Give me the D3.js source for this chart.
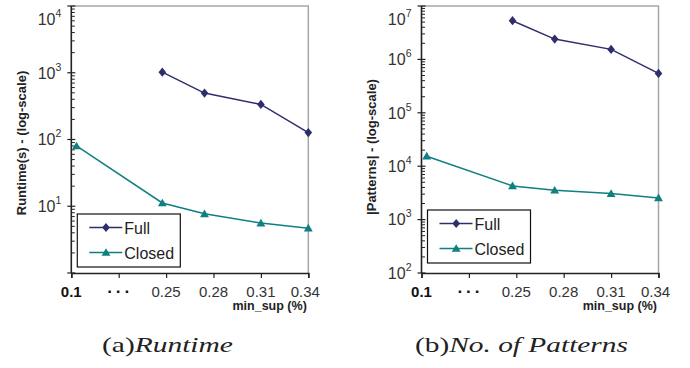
<!DOCTYPE html>
<html><head><meta charset="utf-8">
<script src="https://cdn.jsdelivr.net/npm/d3@7"></script>
<style>
html,body{margin:0;padding:0;background:#fff;}
svg{display:block;}
</style></head>
<body>
<svg id="chart" width="690" height="368"></svg>
<script>
// ---- data ----
const categories = ["0.1", "···", "0.25", "0.28", "0.31", "0.34"];
const closedX = [0.11, 1.92, 2.81, 4.0, 5.0];   // position of Closed points on category axis
const fullX = [1.92, 2.81, 4.0, 5.0];           // position of Full points
const runtimeFull = [1020, 496, 335, 127];
const runtimeClosed = [80, 11.2, 7.7, 5.6, 4.7];
const patternsFull = [5.3e6, 2.4e6, 1.54e6, 5.46e5];
const patternsClosed = [15400, 4275, 3548, 3072, 2547];
const seriesNames = ["Full", "Closed"];
const runtimeTicks = [1, 10, 100, 1000, 10000];
const patternTicks = [1e2, 1e3, 1e4, 1e5, 1e6, 1e7];

const colors = {Full: "#2e2e6c", Closed: "#0f7f80"};
const svg = d3.select("#chart");
const FONT = "'Liberation Sans', Arial, sans-serif";

function panel(opt) {
  const top = 6, bottom = 273, left = opt.axisX, right = opt.axisX + 237;
  const x = d3.scaleLinear().domain([0, 5]).range([left, right]);
  const y = d3.scaleLog().domain(opt.domain).range([bottom, top]);
  const g = svg.append("g");

  // frame (top & right in gray)
  g.append("path").attr("d", `M${left},${top}H${right}V${bottom}`)
    .attr("fill", "none").attr("stroke", "#a8a8a8").attr("stroke-width", 1.5);

  // minor ticks
  const minors = y.ticks().filter(v => opt.ticks.indexOf(v) < 0);
  g.selectAll(".minor").data(minors).enter().append("line")
    .attr("x1", left).attr("x2", left + 3.5)
    .attr("y1", d => y(d)).attr("y2", d => y(d))
    .attr("stroke", "#222").attr("stroke-width", 1);
  // major ticks
  g.selectAll(".major").data(opt.ticks).enter().append("line")
    .attr("x1", left - 4).attr("x2", left + 4)
    .attr("y1", d => y(d)).attr("y2", d => y(d))
    .attr("stroke", "#222").attr("stroke-width", 1.2);
  // major labels
  opt.ticks.forEach((v, i) => {
    if (opt.skipFirstLabel && i === 0) return;
    const cy = Math.max(y(v), 19);
    const t = g.append("text").attr("x", left - 10).attr("y", cy + 5.8)
      .attr("text-anchor", "end").attr("font-family", FONT)
      .attr("font-size", 16).attr("fill", "#333");
    t.append("tspan").text("10");
    t.append("tspan").attr("dy", -8).attr("font-size", 10.5).text(String(Math.round(Math.log10(v))));
  });

  // x axis
  const xa = g.append("g").attr("transform", `translate(0,${bottom})`)
    .call(d3.axisBottom(x).tickValues(d3.range(categories.length)).tickSize(5).tickFormat(""));
  xa.select(".domain").attr("stroke", "#222").attr("stroke-width", 1.6);
  xa.selectAll(".tick line").attr("stroke", "#222").attr("stroke-width", 1.2);
  categories.forEach((c, i) => {
    const tx = g.append("text").attr("x", x(i) - (i === categories.length - 1 ? 3 : 0)).attr("y", 296.5)
      .attr("text-anchor", "middle").attr("font-family", FONT)
      .attr("font-size", c === "···" ? 17 : 15).attr("fill", i === 0 || c === "···" ? "#111" : "#333")
      .attr("font-weight", i <= 1 ? "bold" : "normal");
    if (c === "···") tx.attr("letter-spacing", "3px").attr("dx", 1.5);
    tx.text(c);
  });
  // y axis line
  g.append("line").attr("x1", left).attr("x2", left).attr("y1", top).attr("y2", bottom)
    .attr("stroke", "#222").attr("stroke-width", 1.6);

  // axis titles
  g.append("text").attr("x", right - 1.5).attr("y", 310).attr("text-anchor", "end")
    .attr("font-family", FONT).attr("font-size", 12.5).attr("font-weight", "bold")
    .attr("fill", "#222").text("min_sup (%)");
  g.append("text").attr("transform", `translate(${left - 45.5},${opt.titleY}) rotate(-90)`)
    .attr("text-anchor", "middle").attr("font-family", FONT).attr("font-size", 13)
    .attr("font-weight", "bold").attr("fill", "#222").text(opt.title);

  // series
  const series = [
    {name: "Full", xs: fullX, vals: opt.full},
    {name: "Closed", xs: closedX, vals: opt.closed}
  ];
  const diamond = "M0,-4.6L3.8,0L0,4.6L-3.8,0Z";
  const tri = d3.symbol().type(d3.symbolTriangle).size(34)();
  series.forEach(s => {
    const pts = s.vals.map((v, i) => [x(s.xs[i]), y(v)]);
    g.append("path").attr("d", d3.line()(pts)).attr("fill", "none")
      .attr("stroke", colors[s.name]).attr("stroke-width", 1.5);
    g.selectAll(null).data(pts).enter().append("path")
      .attr("transform", d => `translate(${d[0]},${d[1] + (s.name === "Closed" ? 0.8 : 0)})`)
      .attr("d", s.name === "Full" ? diamond : tri).attr("fill", colors[s.name]);
  });

  // legend
  const lx = left + 6, ly = opt.legendTop;
  const lg = g.append("g");
  lg.append("rect").attr("x", lx).attr("y", ly).attr("width", 103).attr("height", 53)
    .attr("fill", "#fff").attr("stroke", "#111").attr("stroke-width", 1.2);
  seriesNames.forEach((n, i) => {
    const ry = ly + 13.5 + i * 25;
    lg.append("line").attr("x1", lx + 12).attr("x2", lx + 45).attr("y1", ry).attr("y2", ry)
      .attr("stroke", colors[n]).attr("stroke-width", 1.5);
    lg.append("path").attr("transform", `translate(${lx + 28.7},${ry + (n === "Closed" ? 0.8 : 0)})`)
      .attr("d", n === "Full" ? diamond : tri).attr("fill", colors[n]);
    lg.append("text").attr("x", lx + 47).attr("y", ry + 6).attr("font-family", FONT)
      .attr("font-size", 16).attr("fill", "#222").text(n);
  });

  // caption (horizontally stretched to the reference width)
  const cap = svg.append("text").attr("x", 0).attr("y", 0)
    .attr("font-family", "'Liberation Serif', 'Times New Roman', serif").attr("font-size", 22)
    .attr("fill", "#222");
  cap.append("tspan").text(opt.capA);
  cap.append("tspan").attr("font-style", "italic").text(opt.capB);
  const len = cap.node().getComputedTextLength();
  cap.attr("transform", `translate(${opt.capX},352) scale(${opt.capW / len},1)`);
}

panel({axisX: 71.3, domain: [1, 1e4], ticks: runtimeTicks, skipFirstLabel: true,
  title: "Runtime(s) - (log-scale)", titleY: 143, full: runtimeFull, closed: runtimeClosed,
  legendTop: 214, capX: 102, capW: 131, capA: "(a)", capB: "Runtime"});
panel({axisX: 421.5, domain: [1e2, 1e7], ticks: patternTicks, skipFirstLabel: false,
  title: "|Patterns| - (log-scale)", titleY: 147, full: patternsFull, closed: patternsClosed,
  legendTop: 210, capX: 415, capW: 213, capA: "(b)", capB: "No. of  Patterns"});
</script>
</body></html>
